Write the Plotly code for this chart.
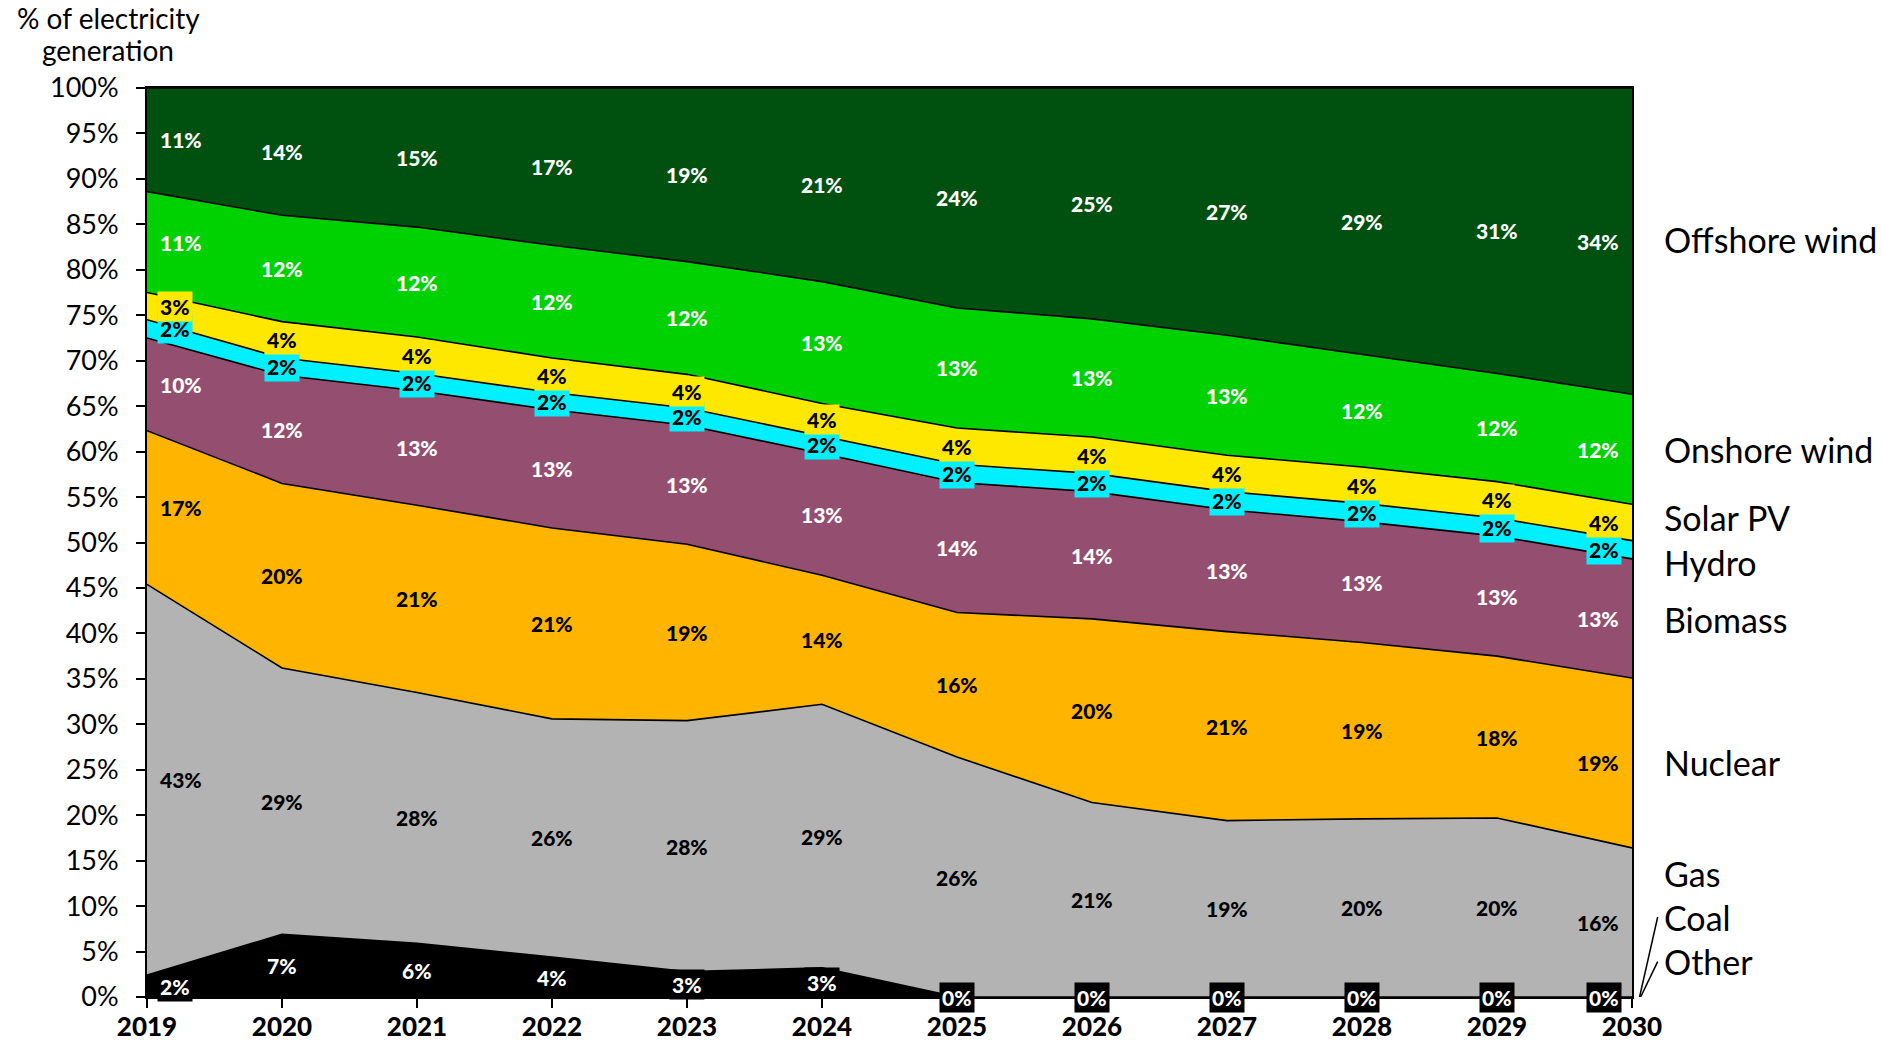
import plotly.graph_objects as go

years = [2019, 2020, 2021, 2022, 2023, 2024, 2025, 2026, 2027, 2028, 2029, 2030]

other    = [0.0, 0.0, 0.0, 0.0, 0.0, 0.0, 0.0, 0.0, 0.0, 0.0, 0.0, 0.0]
coal     = [2.4, 6.9, 5.9, 4.4, 2.8, 3.2, 0.0, 0.0, 0.0, 0.0, 0.0, 0.0]
gas      = [43.0, 29.3, 27.6, 26.2, 27.6, 29.0, 26.4, 21.4, 19.4, 19.6, 19.7, 16.4]
nuclear  = [16.9, 20.3, 20.6, 21.0, 19.4, 14.2, 15.9, 20.2, 20.8, 19.4, 17.8, 18.7]
biomass  = [10.2, 11.9, 12.6, 13.0, 13.1, 13.4, 14.3, 14.0, 13.4, 13.3, 13.2, 13.1]
hydro    = [2.0, 1.9, 1.9, 1.9, 1.9, 1.9, 2.0, 2.0, 2.0, 2.0, 2.0, 2.0]
solar    = [3.0, 4.0, 4.0, 3.8, 3.7, 3.6, 4.0, 4.0, 4.0, 4.0, 4.0, 4.0]
onshore  = [11.1, 11.7, 12.1, 12.4, 12.4, 13.4, 13.2, 13.0, 13.2, 12.4, 11.9, 12.1]
offshore = [11.4, 14.0, 15.3, 17.3, 19.1, 21.3, 24.2, 25.4, 27.2, 29.3, 31.4, 33.7]

series_names = ["Other", "Coal", "Gas", "Nuclear", "Biomass", "Hydro", "Solar PV", "Onshore wind", "Offshore wind"]
series_values = [other, coal, gas, nuclear, biomass, hydro, solar, onshore, offshore]
series_colors = ["#000000", "#000000", "#B3B3B3", "#FFB400", "#944E70", "#00F0FF", "#FFE800", "#00D100", "#005010"]
label_colors = [None, "#FFFFFF", "#000000", "#000000", "#FFFFFF", "#000000", "#000000", "#FFFFFF", "#FFFFFF"]
label_bg = [None, "#000000", None, None, None, "#00F0FF", "#FFE800", None, None]

# right-side series label positions (y in % units)
right_label_y = {"Offshore wind": 83.3, "Onshore wind": 60.2, "Solar PV": 52.8, "Hydro": 47.8,
                 "Biomass": 41.5, "Nuclear": 25.8, "Gas": 13.6, "Coal": 8.8, "Other": 3.9}

FONT = "Lato"

fig = go.Figure()
for name, vals, col in zip(series_names, series_values, series_colors):
    fig.add_trace(go.Scatter(
        x=years, y=vals, name=name, mode="lines", stackgroup="one",
        line=dict(color="#000000", width=1.6), fillcolor=col, showlegend=False,
        hoverinfo="skip"))

annotations = []
cum = [0.0] * len(years)
for name, vals, lc, bg in zip(series_names, series_values, label_colors, label_bg):
    for i, (yr, v) in enumerate(zip(years, vals)):
        mid = cum[i] + v / 2
        if lc is not None:
            if i == 0:
                xanchor, xshift = "left", 10
            elif i == len(years) - 1:
                xanchor, xshift = "right", -10
            else:
                xanchor, xshift = "center", 0
            ann = dict(x=yr, y=mid, xref="x", yref="y", text=f"{round(v)}%",
                       showarrow=False, xanchor=xanchor, yanchor="middle", xshift=xshift,
                       font=dict(family=FONT, size=21, color=lc, weight=900), borderpad=2)
            if bg is not None:
                ann["bgcolor"] = bg
            annotations.append(ann)
        cum[i] += v

for name in series_names:
    annotations.append(dict(x=1.0, y=right_label_y[name], xref="paper", yref="y",
                            text=name, showarrow=False, xanchor="left", yanchor="middle",
                            xshift=30, font=dict(family=FONT, size=34, color="#000000")))

for line_text, py in [("% of electricity", 1.0765), ("generation", 1.042)]:
    annotations.append(dict(x=-0.026, y=py, xref="paper", yref="paper",
                            text=line_text, showarrow=False,
                            xanchor="center", yanchor="middle", align="center",
                            font=dict(family=FONT, size=28, color="#000000")))

# leader lines for Coal and Other
shapes = [
    dict(type="line", xref="paper", yref="y", x0=1.0173, y0=8.8, x1=1.0051, y1=0.0,
         line=dict(color="#000000", width=1.5)),
    dict(type="line", xref="paper", yref="y", x0=1.0173, y0=3.9, x1=1.0058, y1=0.0,
         line=dict(color="#000000", width=1.5)),
]

fig.update_layout(
    width=1882, height=1045,
    margin=dict(l=147, r=250, t=88, b=48),
    paper_bgcolor="#FFFFFF", plot_bgcolor="#FFFFFF",
    annotations=annotations, shapes=shapes,
    font=dict(family=FONT, color="#000000"),
)
fig.update_xaxes(range=[2019, 2030], tickmode="array", tickvals=years, automargin=False,
                 ticktext=[str(y) for y in years], showgrid=False, zeroline=False,
                 showline=True, linecolor="#000000", linewidth=2, mirror=True,
                 ticks="outside", ticklen=9, tickwidth=1.5, tickcolor="#000000",
                 ticklabelstandoff=-3,
                 tickfont=dict(family=FONT, size=26, color="#000000", weight=900))
fig.update_yaxes(range=[0, 100], tickmode="array", tickvals=list(range(0, 101, 5)), automargin=False,
                 ticktext=[f"{v}%" for v in range(0, 101, 5)], showgrid=False, zeroline=False,
                 showline=True, linecolor="#000000", linewidth=2, mirror=True,
                 ticks="outside", ticklen=9, tickwidth=1.5, tickcolor="#000000",
                 ticklabelstandoff=12,
                 tickfont=dict(family=FONT, size=27, color="#000000"))

fig.write_html("out.html")
